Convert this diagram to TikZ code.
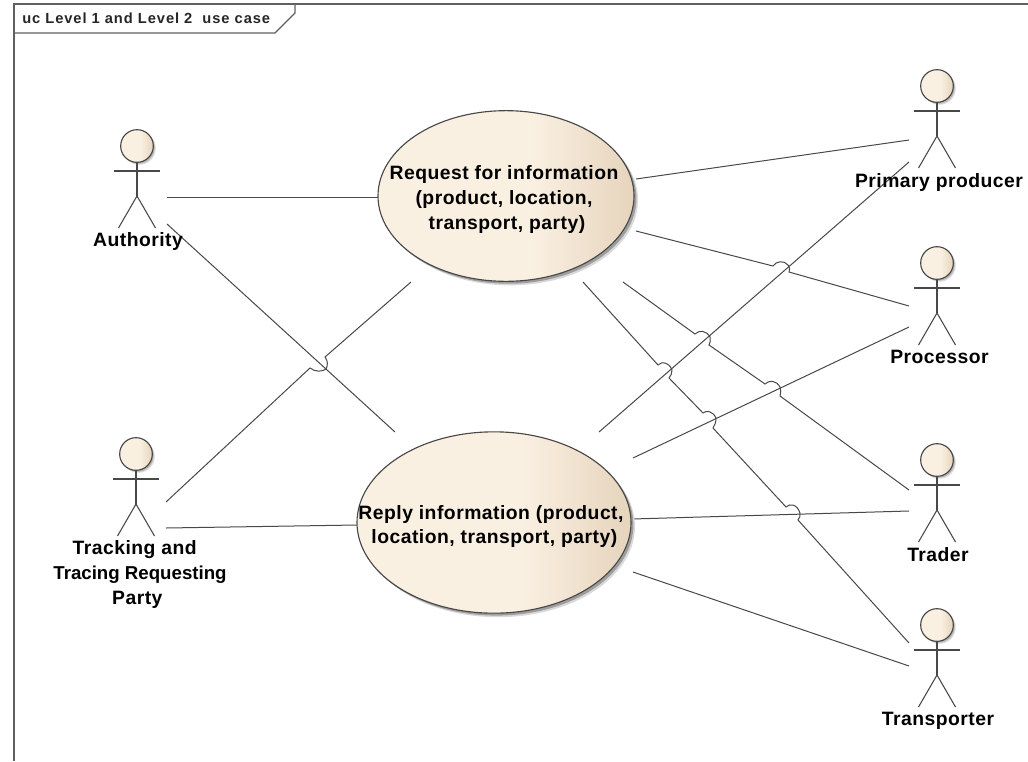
\documentclass[tikz,border=0pt]{standalone}
\usepackage{fontspec}
\setmainfont{Liberation Sans}
\usetikzlibrary{shapes.geometric,shadows,calc}
\definecolor{framecol}{HTML}{606060}
\definecolor{inkcol}{HTML}{484848}
\definecolor{creamL}{HTML}{FAF0E2}
\definecolor{creamR}{HTML}{E6D4BC}
\pgfdeclarehorizontalshading{ucfill}{100bp}{color(0bp)=(creamL); color(25bp)=(creamL); color(55bp)=(creamL); color(75bp)=(creamR); color(100bp)=(creamR)}
\tikzset{
  x=0.75pt,y=-0.75pt,
  frameline/.style={draw=framecol,line width=0.9pt},
  assoc/.style={draw=inkcol,line width=0.75pt},
  usecase/.style={ellipse,draw=inkcol,line width=0.85pt,shading=ucfill,inner sep=0pt,
    general shadow={shadow xshift=3pt,shadow yshift=-3pt,fill=black!15},
    general shadow={shadow xshift=1.8pt,shadow yshift=-1.8pt,fill=black!38}},
  head/.style={circle,draw=inkcol,line width=0.85pt,minimum size=24.5pt,inner sep=0pt,shading=ucfill,
    general shadow={shadow xshift=1.8pt,shadow yshift=-1.8pt,fill=black!15},
    general shadow={shadow xshift=1pt,shadow yshift=-1pt,fill=black!30}},
  limb/.style={draw=inkcol,line width=0.8pt},
  lbl/.style={font=\bfseries\fontsize{14.5}{18.4}\selectfont\addfontfeatures{LetterSpace=2.5},text=black,align=center,inner sep=0pt},
  taglbl/.style={font=\bfseries\fontsize{11}{13}\selectfont\addfontfeatures{LetterSpace=6.5},text=black!85,anchor=west,inner sep=0pt},
}
\newcommand{\stickman}[3]{% name, x, head y
  \node[head] (#1) at (#2,#3) {};
  \draw[limb] (#1.south) -- ($(#1)+(0,50)$)
     coordinate (#1hip);
  \draw[limb] ($(#1)+(-23,25)$) -- ($(#1)+(23,25)$);
  \draw[limb] ($(#1)+(-18.5,82)$) -- (#1hip) -- ($(#1)+(18.5,82)$);
}
\begin{document}
\begin{tikzpicture}
\useasboundingbox (0,0) rectangle (1028,761);
\fill[white] (0,0) rectangle (1028,761);
% frame
\draw[frameline] (14,761) -- (14,4) -- (1028,4);
\draw[frameline] (14,33) -- (275,33) -- (295,13) -- (295,4);
\node[taglbl] (tag) at (22,18) {uc Level 1 and Level 2\ \ use case};

% connector ends
\coordinate (a1) at (167,197); \coordinate (r1) at (378,197);
\coordinate (a2) at (167,224); \coordinate (p1) at (395,432);
\coordinate (t1) at (166,502); \coordinate (r2) at (411,282);
\coordinate (t2) at (166,528); \coordinate (p2) at (357,525);
\coordinate (r3) at (636,179); \coordinate (e1) at (909,140);
\coordinate (p3) at (599,432); \coordinate (e2) at (909,162);
\coordinate (r4) at (636,231); \coordinate (e3) at (909,306);
\coordinate (p4) at (633,458); \coordinate (e4) at (909,327);
\coordinate (r5) at (623,282); \coordinate (e5) at (909,490);
\coordinate (p5) at (632,519); \coordinate (e6) at (909,511);
\coordinate (r6) at (583,282); \coordinate (e7) at (909,643);
\coordinate (p6) at (633,572); \coordinate (e8) at (909,666);

% connectors
\draw[assoc] (a1) -- (r1);
\draw[assoc] (a2) -- (p1);
\draw[assoc] (t1) -- (310,368) .. controls (315,372) and (322,372) .. (326,369) .. controls (328,365) and (328,361) .. (325,357) -- (r2);
\draw[assoc] (t2) -- (p2);
\draw[assoc] (r3) -- (e1);
\draw[assoc] (p3) -- (e2);
\draw[assoc] (r4) -- (773,266) .. controls (776,261) and (784,260) .. (788,265) .. controls (790,267) and (790,270) .. (789,272) -- (e3);
\draw[assoc] (p4) -- (e4);
\draw[assoc] (r5) -- (695,334) .. controls (699,330) and (706,330) .. (710,337) .. controls (711,340) and (710,343) .. (709,345)
   -- (765,384) .. controls (769,380) and (776,380) .. (780,387) .. controls (781,390) and (781,393) .. (780,396) -- (e5);
\draw[assoc] (p5) -- (e6);
\draw[assoc] (r6) -- (658,365) .. controls (662,361) and (669,362) .. (672,370) .. controls (672,373) and (671,376) .. (669,378)
   -- (703,413) .. controls (706,410) and (713,411) .. (716,418) .. controls (716,422) and (715,425) .. (713,428)
   -- (786,507) .. controls (790,503) and (797,504) .. (800,513) .. controls (800,516) and (800,518) .. (798,520) -- (e7);
\draw[assoc] (p6) -- (e8);

% use cases
\node[usecase,minimum width=192pt,minimum height=128pt] (req) at (506,196) {};
\node[usecase,minimum width=205.5pt,minimum height=136pt] (rep) at (494,522.5) {};
\node[lbl] (reqtext) at (504,199.5) {Request for information\\(product, location,\\\hspace*{4.5pt}transport, party)};
\node[lbl] (reptext) at (491,526.5) {Reply information (product,\\\hspace*{5pt}location, transport, party)};

% actors
\stickman{auth}{137}{146}
\stickman{ttp}{136}{454}
\stickman{prim}{937}{86}
\stickman{proc}{937}{263}
\stickman{trad}{937}{460}
\stickman{tran}{937}{625}
\node[lbl,anchor=base] (authl) at (138,246) {Authority};
\node[lbl] (ttpl) at (140,574.5) {Tracking and\hspace*{8pt}\\{\fontsize{14}{18.4}\selectfont\addfontfeatures{LetterSpace=0}Tracing Requesting}\\Party\hspace*{4pt}};
\node[lbl,anchor=base] (priml) at (939,187) {Primary producer};
\node[lbl,anchor=base] (procl) at (939.5,363) {Processor};
\node[lbl,anchor=base] (tradl) at (938,561) {Trader};
\node[lbl,anchor=base] (tranl) at (938,725) {Transporter};
\end{tikzpicture}
\end{document}
